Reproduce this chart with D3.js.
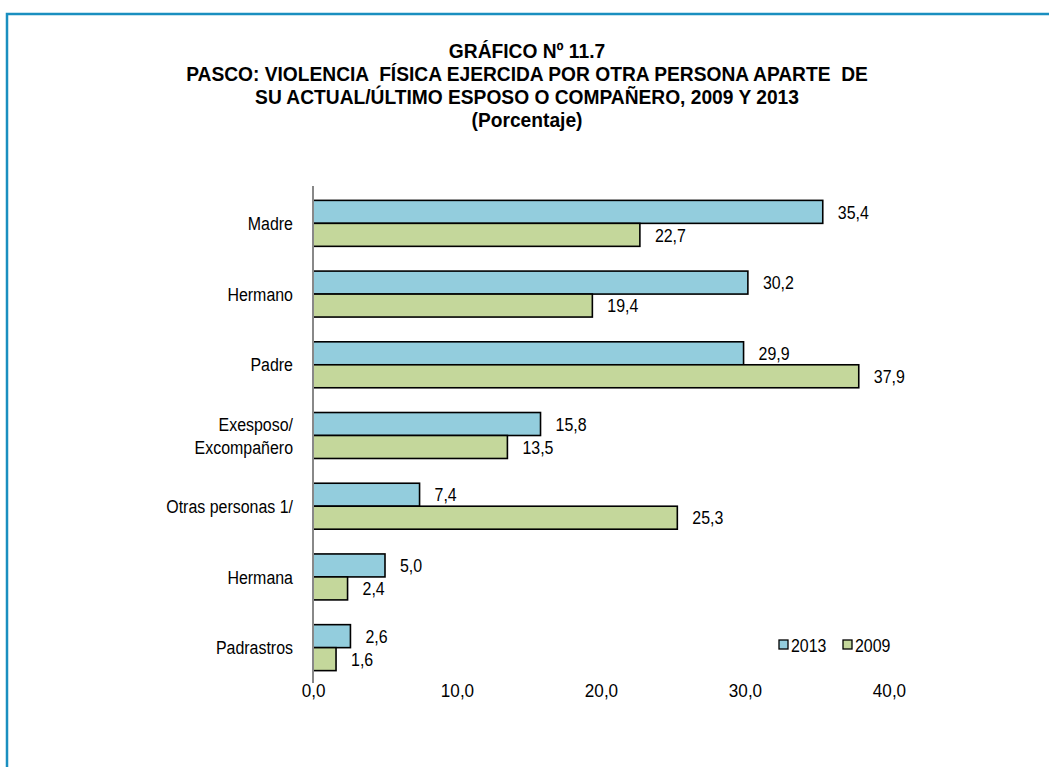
<!DOCTYPE html>
<html><head><meta charset="utf-8">
<script src="https://cdn.jsdelivr.net/npm/d3@7"></script>
<style>
body{margin:0;background:#fff;}
svg{display:block;}
text{font-family:"Liberation Sans Narrow","Liberation Sans",Arial,sans-serif;fill:#000;}
</style></head><body>
<script>
const categories = ["Madre","Hermano","Padre","Exesposo/\nExcompañero","Otras personas 1/","Hermana","Padrastros"];
const series2013 = [35.4,30.2,29.9,15.8,7.4,5.0,2.6];
const series2009 = [22.7,19.4,37.9,13.5,25.3,2.4,1.6];
const seriesNames = ["2013","2009"];
const tickValues = [0,10,20,30,40];
const titleLines = ["GRÁFICO Nº 11.7","PASCO: VIOLENCIA  FÍSICA EJERCIDA POR OTRA PERSONA APARTE  DE","SU ACTUAL/ÚLTIMO ESPOSO O COMPAÑERO, 2009 Y 2013","(Porcentaje)"];
const colors = ["#93cddd","#c4d79b"];

const W=1049,H=767, K=0.84, FS=19;
const svg=d3.select("body").append("svg").attr("width",W).attr("height",H);
svg.append("rect").attr("x",7).attr("y",14).attr("width",1060).attr("height",800)
  .attr("fill","none").attr("stroke","#1a8fc0").attr("stroke-width",2.5);

svg.append("g").selectAll("text").data(titleLines).join("text")
  .attr("transform",(d,i)=>`translate(527,${58+i*23}) scale(0.96,1)`).attr("text-anchor","middle")
  .attr("font-size",20).attr("font-weight","bold").style("white-space","pre").text(d=>d);

const x=d3.scaleLinear().domain([0,40]).range([313,889]);
const y=d3.scaleBand().domain(categories).range([188,683]).paddingInner(0.35).paddingOuter(0.175);
const sub=d3.scaleBand().domain(seriesNames).range([0,y.bandwidth()]);

const data=categories.map((c,i)=>({c,vals:[{s:"2013",v:series2013[i]},{s:"2009",v:series2009[i]}]}));
const grp=svg.append("g").selectAll("g.cat").data(data).join("g").attr("transform",d=>`translate(0,${y(d.c)})`);
grp.selectAll("rect").data(d=>d.vals).join("rect")
  .attr("x",x(0)).attr("y",d=>sub(d.s)).attr("width",d=>x(d.v)-x(0)).attr("height",sub.bandwidth())
  .attr("fill",d=>colors[seriesNames.indexOf(d.s)]).attr("stroke","#000").attr("stroke-width",1.6);
grp.selectAll("text.val").data(d=>d.vals).join("text").attr("class","val")
  .attr("transform",d=>`translate(${x(d.v)+15},${sub(d.s)+sub.bandwidth()/2}) scale(${K},1)`)
  .attr("dy","0.35em").attr("font-size",FS).text(d=>d.v.toFixed(1).replace(".",","));

svg.append("line").attr("x1",x(0)).attr("x2",x(0)).attr("y1",186).attr("y2",683)
  .attr("stroke","#888").attr("stroke-width",2);

const cl=svg.append("g").selectAll("text").data(categories).join("text")
  .attr("transform",d=>`translate(293,${y(d)+y.bandwidth()/2}) scale(${K},1)`)
  .attr("text-anchor","end").attr("font-size",FS);
cl.each(function(d){
  const lines=d.split("\n");const t=d3.select(this);
  lines.forEach((l,i)=>{t.append("tspan").attr("x",0)
    .attr("dy",i===0?((0.35-(lines.length-1)*0.6)+"em"):"1.2em").text(l);});
});

const xa=d3.axisBottom(x).tickValues(tickValues).tickSize(0).tickFormat(d=>d3.format(".1f")(d).replace(".",","));
const ax=svg.append("g").attr("transform","translate(0,683)").call(xa);
ax.select(".domain").remove();
ax.selectAll("text").attr("font-size",FS).attr("dy","0").attr("y",0)
  .attr("transform",`translate(0,14) scale(0.9,1)`)
  .style("font-family","'Liberation Sans Narrow','Liberation Sans',Arial,sans-serif").attr("fill","#000");

const leg=svg.append("g").attr("transform","translate(779,640)");
seriesNames.forEach((s,i)=>{
  const lg=leg.append("g").attr("transform",`translate(${i*64},0)`);
  lg.append("rect").attr("width",9).attr("height",9).attr("fill",colors[i]).attr("stroke","#000").attr("stroke-width",1.3);
  lg.append("text").attr("transform",`translate(12,5) scale(${K},1)`).attr("dy","0.35em").attr("font-size",FS).text(s);
});
</script></body></html>
